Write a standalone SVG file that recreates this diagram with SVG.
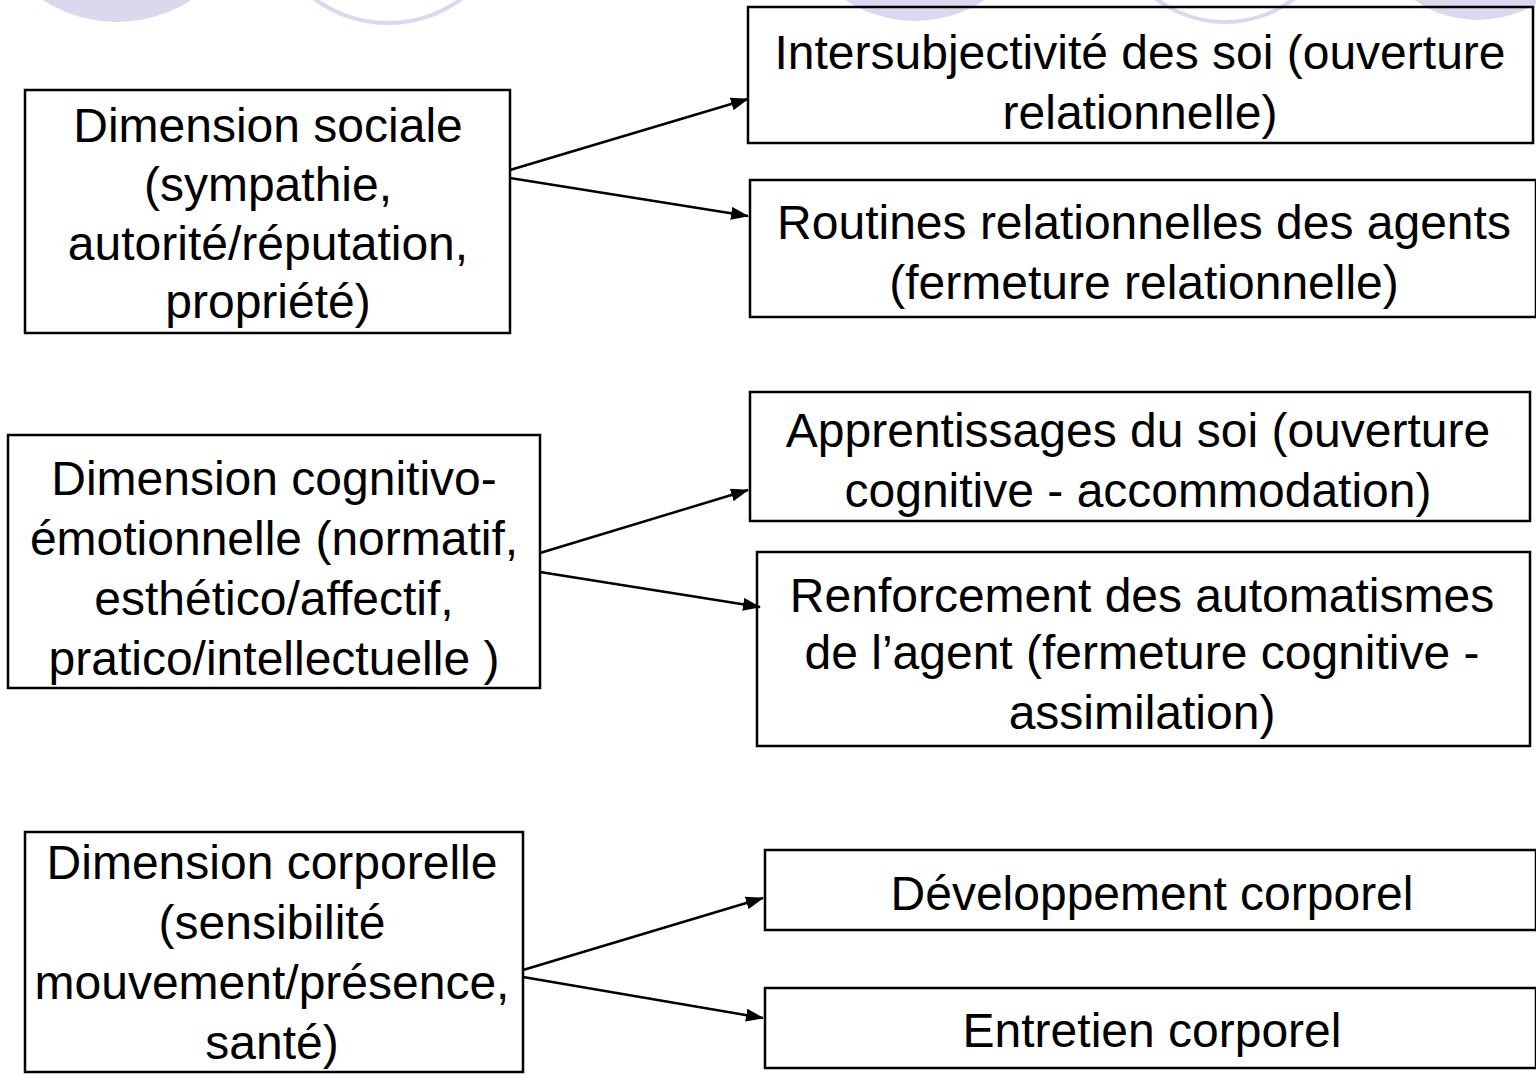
<svg xmlns="http://www.w3.org/2000/svg" width="1536" height="1086" viewBox="0 0 1536 1086">
<defs>
<marker id="ah" markerWidth="18" markerHeight="13" refX="17" refY="6.5" orient="auto" markerUnits="userSpaceOnUse">
<path d="M0,0 L18,6.5 L0,13 Z" fill="#000"/>
</marker>
<style>
.box{fill:none;stroke:#000;stroke-width:2.5}
.t{font-family:"Liberation Sans",Arial,sans-serif;font-size:48px;fill:#000;text-anchor:middle}
.c{stroke:#000;stroke-width:2.5;fill:none;marker-end:url(#ah)}
.fc{fill:#dad8ec}
.rc{fill:none;stroke:#dad8ec;stroke-width:4}
</style>
</defs>
<rect width="1536" height="1086" fill="#fff"/>
<g id="decor">
<circle class="fc" cx="117" cy="-115" r="137"/>
<circle class="rc" cx="388" cy="-101" r="124"/>
<circle class="fc" cx="915" cy="-106" r="127"/>
<circle class="rc" cx="1225" cy="-92" r="114"/>
<circle class="fc" cx="1478" cy="-92" r="112"/>
</g>
<g id="n1">
<rect class="box" x="25" y="90" width="485" height="243"/>
<text class="t" x="268" y="142">Dimension sociale</text>
<text class="t" x="268" y="201">(sympathie,</text>
<text class="t" x="268" y="260">autorité/réputation,</text>
<text class="t" x="268" y="318">propriété)</text>
</g>
<g id="n2">
<rect class="box" x="748" y="7" width="785" height="136"/>
<text class="t" x="1140" y="69">Intersubjectivité des soi (ouverture</text>
<text class="t" x="1140" y="129">relationnelle)</text>
</g>
<g id="n3">
<rect class="box" x="750" y="180" width="786" height="137"/>
<text class="t" x="1144" y="239">Routines relationnelles des agents</text>
<text class="t" x="1144" y="299">(fermeture relationnelle)</text>
</g>
<g id="n4">
<rect class="box" x="8" y="435" width="532" height="253"/>
<text class="t" x="274" y="495">Dimension cognitivo-</text>
<text class="t" x="274" y="555">émotionnelle (normatif,</text>
<text class="t" x="274" y="615">esthético/affectif,</text>
<text class="t" x="274" y="675">pratico/intellectuelle )</text>
</g>
<g id="n5">
<rect class="box" x="750" y="392" width="780" height="129"/>
<text class="t" x="1138" y="447">Apprentissages du soi (ouverture</text>
<text class="t" x="1138" y="507">cognitive - accommodation)</text>
</g>
<g id="n6">
<rect class="box" x="757" y="552" width="773" height="194"/>
<text class="t" x="1142" y="612">Renforcement des automatismes</text>
<text class="t" x="1142" y="669">de l’agent (fermeture cognitive -</text>
<text class="t" x="1142" y="729">assimilation)</text>
</g>
<g id="n7">
<rect class="box" x="25" y="832" width="498" height="240"/>
<text class="t" x="272" y="879">Dimension corporelle</text>
<text class="t" x="272" y="939">(sensibilité</text>
<text class="t" x="272" y="999">mouvement/présence,</text>
<text class="t" x="272" y="1059">santé)</text>
</g>
<g id="n8">
<rect class="box" x="765" y="850" width="771" height="80"/>
<text class="t" x="1152" y="910">Développement corporel</text>
</g>
<g id="n9">
<rect class="box" x="765" y="988" width="771" height="80"/>
<text class="t" x="1152" y="1047">Entretien corporel</text>
</g>
<g id="connectors">
<line class="c" x1="510" y1="170" x2="748" y2="99"/>
<line class="c" x1="510" y1="178" x2="748" y2="216"/>
<line class="c" x1="540" y1="553" x2="748" y2="490"/>
<line class="c" x1="540" y1="572" x2="760" y2="607"/>
<line class="c" x1="523" y1="970" x2="763" y2="898"/>
<line class="c" x1="523" y1="977" x2="763" y2="1018"/>
</g>
</svg>
